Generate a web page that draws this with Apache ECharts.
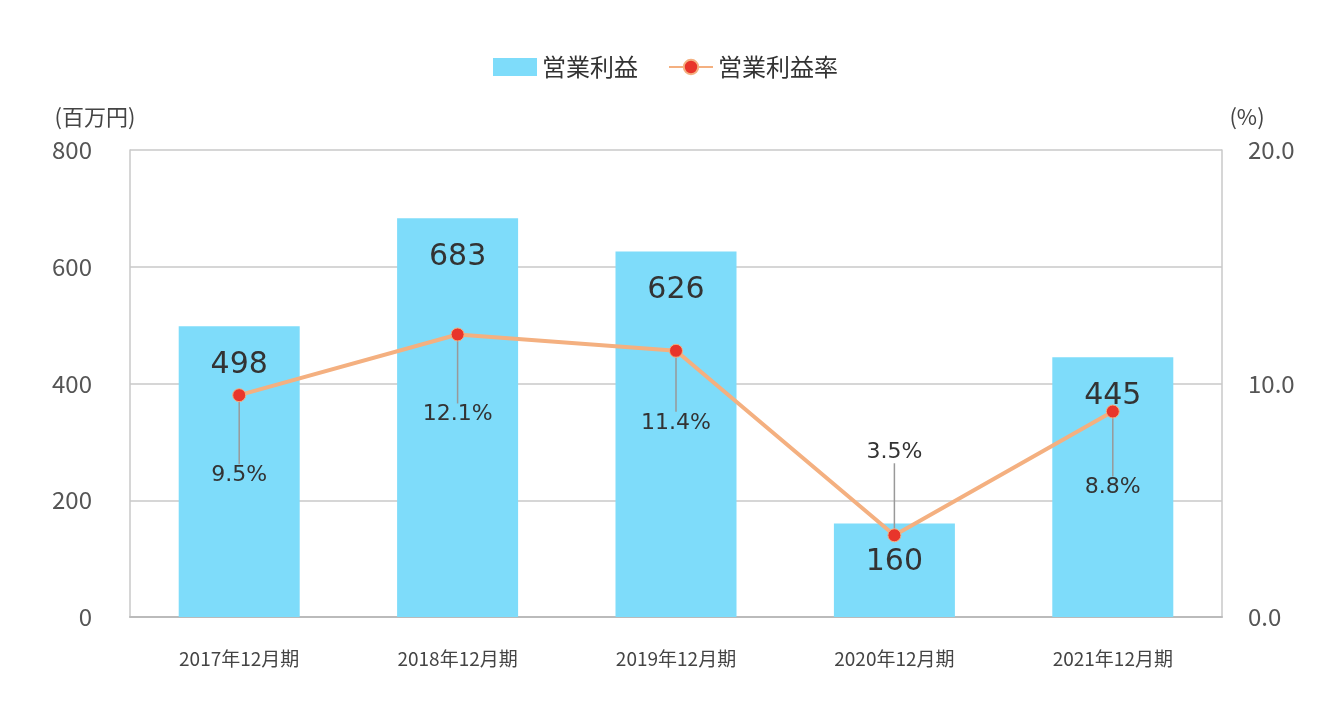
<!DOCTYPE html>
<html><head><meta charset="utf-8">
<script src="https://cdn.jsdelivr.net/npm/echarts@6/dist/echarts.min.js"></script>
<style>html,body{margin:0;padding:0;background:#fff}#c{width:1331px;height:713px}</style>
</head><body><div id="c"></div>
<script>
const categories = ['2017年12月期','2018年12月期','2019年12月期','2020年12月期','2021年12月期'];
const profit = [498, 683, 626, 160, 445];
const margin = [9.5, 12.1, 11.4, 3.5, 8.8];
const marginLabelShift = [80, 80, 72, -83, 76];
const font = '"Noto Sans CJK JP", "Noto Sans", sans-serif';
const chart = echarts.init(document.getElementById('c'));
chart.setOption({
  animation: false,
  textStyle: {fontFamily: font},
  legend: {top: 50, left: 'center', itemGap: 30, itemWidth: 44, itemHeight: 18,
    textStyle: {fontSize: 24, color: '#333', fontFamily: font},
    data: [{name: '営業利益', icon: 'rect'}, {name: '営業利益率'}]},
  grid: {left: 130, right: 109, top: 150, bottom: 96},
  xAxis: {type: 'category', data: categories,
    axisLine: {lineStyle: {color: '#bbb', width: 2}}, axisTick: {show: false},
    axisLabel: {fontSize: 19, color: '#444', margin: 32}},
  yAxis: [
    {type: 'value', min: 0, max: 800, interval: 200, name: '(百万円)',
     nameLocation: 'end', nameGap: 22, nameTextStyle: {fontSize: 22, color: '#444', align: 'center', padding: [0, 0, 0, -70]},
     axisLabel: {fontSize: 24, color: '#555', margin: 38},
     splitLine: {lineStyle: {color: '#c8c8c8', width: 1.5}},
     axisLine: {show: true, lineStyle: {color: '#c8c8c8', width: 1.5}}},
    {type: 'value', min: 0, max: 20, interval: 10, name: '(%)',
     nameLocation: 'end', nameGap: 22, nameTextStyle: {fontSize: 22, color: '#444', padding: [0, 0, 0, 50]},
     axisLabel: {fontSize: 24, color: '#555', margin: 26, formatter: v => v.toFixed(1)},
     splitLine: {show: false},
     axisLine: {show: true, lineStyle: {color: '#c8c8c8', width: 1.5}}}
  ],
  series: [
    {name: '営業利益', type: 'bar', data: profit, barWidth: 121,
     itemStyle: {color: '#7edcfa'},
     label: {show: true, position: 'insideTop', distance: 24, fontSize: 30, color: '#333', fontFamily: 'Verdana, "DejaVu Sans", sans-serif'}},
    {name: '営業利益率', type: 'line', yAxisIndex: 1, data: margin,
     symbol: 'circle', symbolSize: 13,
     lineStyle: {color: '#f4b080', width: 4},
     itemStyle: {color: '#e8352b', borderColor: '#f4b080', borderWidth: 1},
     label: {show: true, position: 'inside', fontSize: 22, color: '#333',
       fontFamily: 'Verdana, "DejaVu Sans", sans-serif', formatter: p => p.value.toFixed(1) + '%'},
     labelLine: {show: true, lineStyle: {color: '#999', width: 1.5}, length2: 0},
     labelLayout: p => ({dy: marginLabelShift[p.dataIndex]})}
  ]
});
</script></body></html>
